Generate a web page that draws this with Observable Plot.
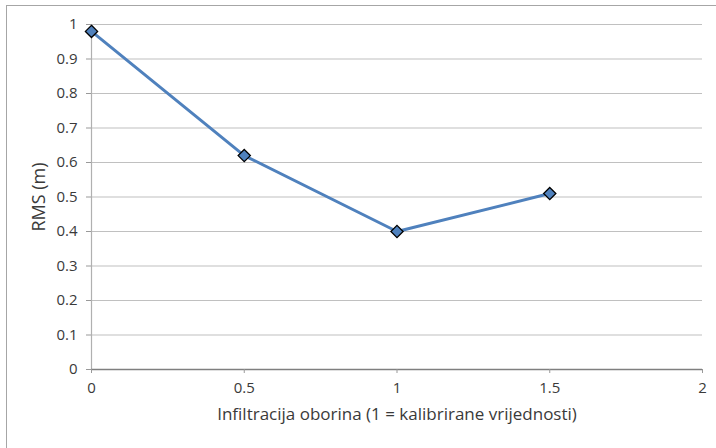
<!DOCTYPE html>
<html>
<head>
<meta charset="utf-8">
<script src="https://cdn.jsdelivr.net/npm/d3@7"></script>
<script src="https://cdn.jsdelivr.net/npm/@observablehq/plot@0.6"></script>
<style>
  html, body { margin: 0; padding: 0; background: #fff; }
  #chart { position: relative; width: 716px; height: 448px; }
  #frame { position: absolute; left: 6px; top: 5px; width: 720px; height: 460px; border: 1px solid #a6a6a6; box-sizing: border-box; pointer-events: none; }
</style>
</head>
<body>
<div id="chart"><div id="frame"></div></div>
<script>
const infiltration = [0, 0.5, 1, 1.5];
const rms = [0.98, 0.62, 0.40, 0.51];
const xTicks = [0, 0.5, 1, 1.5, 2];
const yTicks = [0, 0.1, 0.2, 0.3, 0.4, 0.5, 0.6, 0.7, 0.8, 0.9, 1];
const xTitle = "Infiltracija oborina (1 = kalibrirane vrijednosti)";
const yTitle = "RMS (m)";

const data = infiltration.map((x, i) => ({x, y: rms[i]}));
const font = "Open Sans, Liberation Sans, sans-serif";

const plot = Plot.plot({
  width: 716,
  height: 448,
  marginLeft: 91,
  marginRight: 14,
  marginTop: 24,
  marginBottom: 79,
  style: {fontFamily: font, fontSize: "15px", color: "#3a3a3a", background: "transparent"},
  x: {domain: [0, 2]},
  y: {domain: [0, 1]},
  marks: [
    Plot.ruleY(yTicks.filter(d => d > 0), {stroke: "#c0c0c0", strokeWidth: 1.2}),
    Plot.ruleX([0], {stroke: "#b0b0b0", strokeWidth: 1.2}),
    Plot.ruleY([0], {stroke: "#7f7f7f", strokeWidth: 1.5}),
    Plot.axisX({ticks: xTicks, tickFormat: d => String(d), tickSize: 4, tickPadding: 9, stroke: "#999", fontSize: 15,
      label: null}),
    Plot.axisX({ticks: [], label: xTitle, labelAnchor: "center", labelOffset: 50, labelArrow: "none", fontSize: 17}),
    Plot.axisY({ticks: yTicks, tickFormat: d => String(d), tickSize: 5, tickPadding: 9, stroke: "#999", fontSize: 15,
      label: null}),
    Plot.axisY({ticks: [], label: yTitle, labelAnchor: "center", labelOffset: 59, labelArrow: "none", fontSize: 18}),
    Plot.line(data, {x: "x", y: "y", stroke: "#4f81bd", strokeWidth: 3}),
    Plot.dot(data, {x: "x", y: "y", symbol: "diamond2", r: 5.5, fill: "#4f81bd", stroke: "#000", strokeWidth: 1.3})
  ]
});
document.getElementById("chart").prepend(plot);
</script>
</body>
</html>
